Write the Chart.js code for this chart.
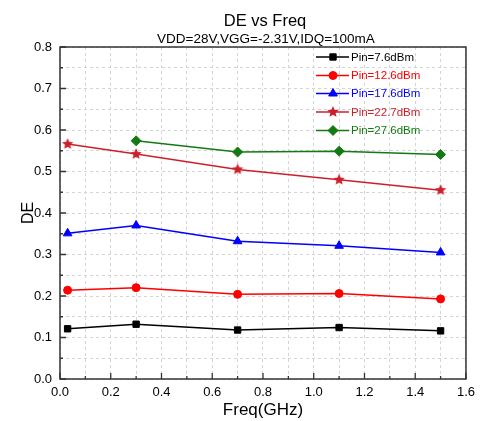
<!DOCTYPE html>
<html><head><meta charset="utf-8">
<script src="https://cdn.jsdelivr.net/npm/chart.js@4/dist/chart.umd.min.js"></script>
<style>html,body{margin:0;padding:0;background:#fff}#wrap{width:481px;height:421px}</style>
</head><body><div id="wrap"><canvas id="c" width="481" height="421"></canvas></div>
<script>
const freqGHz = [0.03, 0.3, 0.7, 1.1, 1.5];
const seriesNames = ['Pin=7.6dBm', 'Pin=12.6dBm', 'Pin=17.6dBm', 'Pin=22.7dBm', 'Pin=27.6dBm'];
const dePin7_6  = [0.121, 0.132, 0.118, 0.124, 0.116];
const dePin12_6 = [0.214, 0.220, 0.204, 0.206, 0.193];
const dePin17_6 = [0.351, 0.370, 0.332, 0.321, 0.305];
const dePin22_7 = [0.566, 0.542, 0.505, 0.480, 0.455];
const dePin27_6 = [null, 0.574, 0.547, 0.549, 0.541];
const chartTitle = 'DE vs Freq';
const chartSubtitle = 'VDD=28V,VGG=-2.31V,IDQ=100mA';
const xTitle = 'Freq(GHz)';
const yTitle = 'DE';

const FONT = '"Liberation Sans", Arial, sans-serif';
const colors = ['#000000', '#ff0000', '#0000ff', '#cc1f2a', '#137a13'];

function makeStar(color, r) {
  const s = Math.ceil(r * 2 + 2);
  const c = document.createElement('canvas');
  c.width = s; c.height = s;
  const g = c.getContext('2d');
  g.fillStyle = color;
  g.beginPath();
  for (let i = 0; i < 10; i++) {
    const ang = -Math.PI / 2 + i * Math.PI / 5;
    const rr = i % 2 ? r * 0.45 : r;
    g.lineTo(s / 2 + rr * Math.cos(ang), s / 2 + rr * Math.sin(ang));
  }
  g.closePath(); g.fill();
  return c;
}

const allSeries = [dePin7_6, dePin12_6, dePin17_6, dePin22_7, dePin27_6];
const styles = ['rect', 'circle', 'triangle', makeStar(colors[3], 6), 'rectRot'];
const radii = [4.5, 4, 5, 6, 5];

const datasets = allSeries.map((vals, i) => ({
  label: seriesNames[i],
  data: freqGHz.map((f, j) => ({ x: f, y: vals[j] })),
  borderColor: colors[i],
  backgroundColor: colors[i],
  borderWidth: 1.5,
  pointStyle: styles[i],
  pointRadius: radii[i],
  pointBorderWidth: 1,
  pointBackgroundColor: colors[i],
  pointBorderColor: colors[i],
  tension: 0,
  spanGaps: false
}));

const decorPlugin = {
  id: 'decor',
  afterDraw(chart) {
    const { ctx, chartArea: a, scales: { x, y } } = chart;
    ctx.save();
    ctx.strokeStyle = '#333'; ctx.lineWidth = 1.3;
    ctx.beginPath();
    x.ticks.forEach(t => {
      const px = x.getPixelForValue(t.value);
      const major = Math.round(t.value * 10) % 2 === 0;
      const len = major ? 6 : 3;
      ctx.moveTo(px, a.bottom); ctx.lineTo(px, a.bottom - len);
    });
    y.ticks.forEach(t => {
      const py = y.getPixelForValue(t.value);
      const major = Math.round(t.value * 20) % 2 === 0;
      const len = major ? 6 : 3;
      ctx.moveTo(a.left, py); ctx.lineTo(a.left + len, py);
    });
    ctx.stroke();
    ctx.lineWidth = 1.5; ctx.strokeStyle = '#333';
    ctx.strokeRect(a.left, a.top, a.right - a.left, a.bottom - a.top);
    const cx = (a.left + a.right) / 2 + 2;
    ctx.fillStyle = '#000'; ctx.textAlign = 'center'; ctx.textBaseline = 'middle';
    ctx.font = '16.5px ' + FONT;
    ctx.fillText(chartTitle, cx, 21.5);
    ctx.font = '13.5px ' + FONT;
    ctx.fillText(chartSubtitle, cx + 1, 39);
    const lx0 = 316, lx1 = 349, mx = 333, tx = 351;
    const ly = [57, 75.5, 93.5, 112, 130.5];
    ctx.font = '11.5px ' + FONT;
    ctx.textAlign = 'left';
    chart.data.datasets.forEach((ds, i) => {
      ctx.strokeStyle = ds.borderColor; ctx.lineWidth = 1.5;
      ctx.beginPath(); ctx.moveTo(lx0, ly[i]); ctx.lineTo(lx1, ly[i]); ctx.stroke();
      ctx.fillStyle = ds.backgroundColor; ctx.strokeStyle = ds.borderColor; ctx.lineWidth = 1;
      Chart.helpers.drawPoint(ctx, { pointStyle: ds.pointStyle, radius: ds.pointRadius, rotation: 0, borderWidth: 1 }, mx, ly[i]);
      ctx.fillStyle = ds.borderColor;
      ctx.fillText(ds.label, tx, ly[i] + 0.5);
    });
    ctx.restore();
  }
};

new Chart(document.getElementById('c'), {
  type: 'line',
  data: { datasets },
  options: {
    responsive: false,
    animation: false,
    layout: { padding: { top: 47, right: 13, left: 0, bottom: 0 } },
    plugins: { legend: { display: false }, title: { display: false }, tooltip: { enabled: false } },
    scales: {
      x: {
        type: 'linear', min: 0, max: 1.6,
        afterFit(s) { s.height = 42; },
        grid: { color: '#d4d4d4', lineWidth: 1, drawTicks: false, borderDash: [3, 3] },
        border: { display: false, dash: [3, 3] },
        ticks: {
          stepSize: 0.1, autoSkip: false, maxRotation: 0, padding: 6, color: '#000',
          font: { family: FONT, size: 13 },
          callback: v => (Math.round(v * 10) % 2 === 0 ? v.toFixed(1) : '')
        },
        title: { display: true, text: xTitle, color: '#000', font: { family: FONT, size: 17 }, padding: { top: 0, bottom: 0 } }
      },
      y: {
        type: 'linear', min: 0, max: 0.8,
        afterFit(s) { s.width = 60; },
        grid: { color: '#d4d4d4', lineWidth: 1, drawTicks: false, borderDash: [3, 3] },
        border: { display: false, dash: [3, 3] },
        ticks: {
          stepSize: 0.05, autoSkip: false, padding: 8, color: '#000',
          font: { family: FONT, size: 13 },
          callback: v => (Math.round(v * 20) % 2 === 0 ? v.toFixed(1) : '')
        },
        title: { display: true, text: yTitle, color: '#000', font: { family: FONT, size: 16 }, padding: { top: 19, bottom: 0 } }
      }
    }
  },
  plugins: [decorPlugin]
});
</script>
</body></html>
